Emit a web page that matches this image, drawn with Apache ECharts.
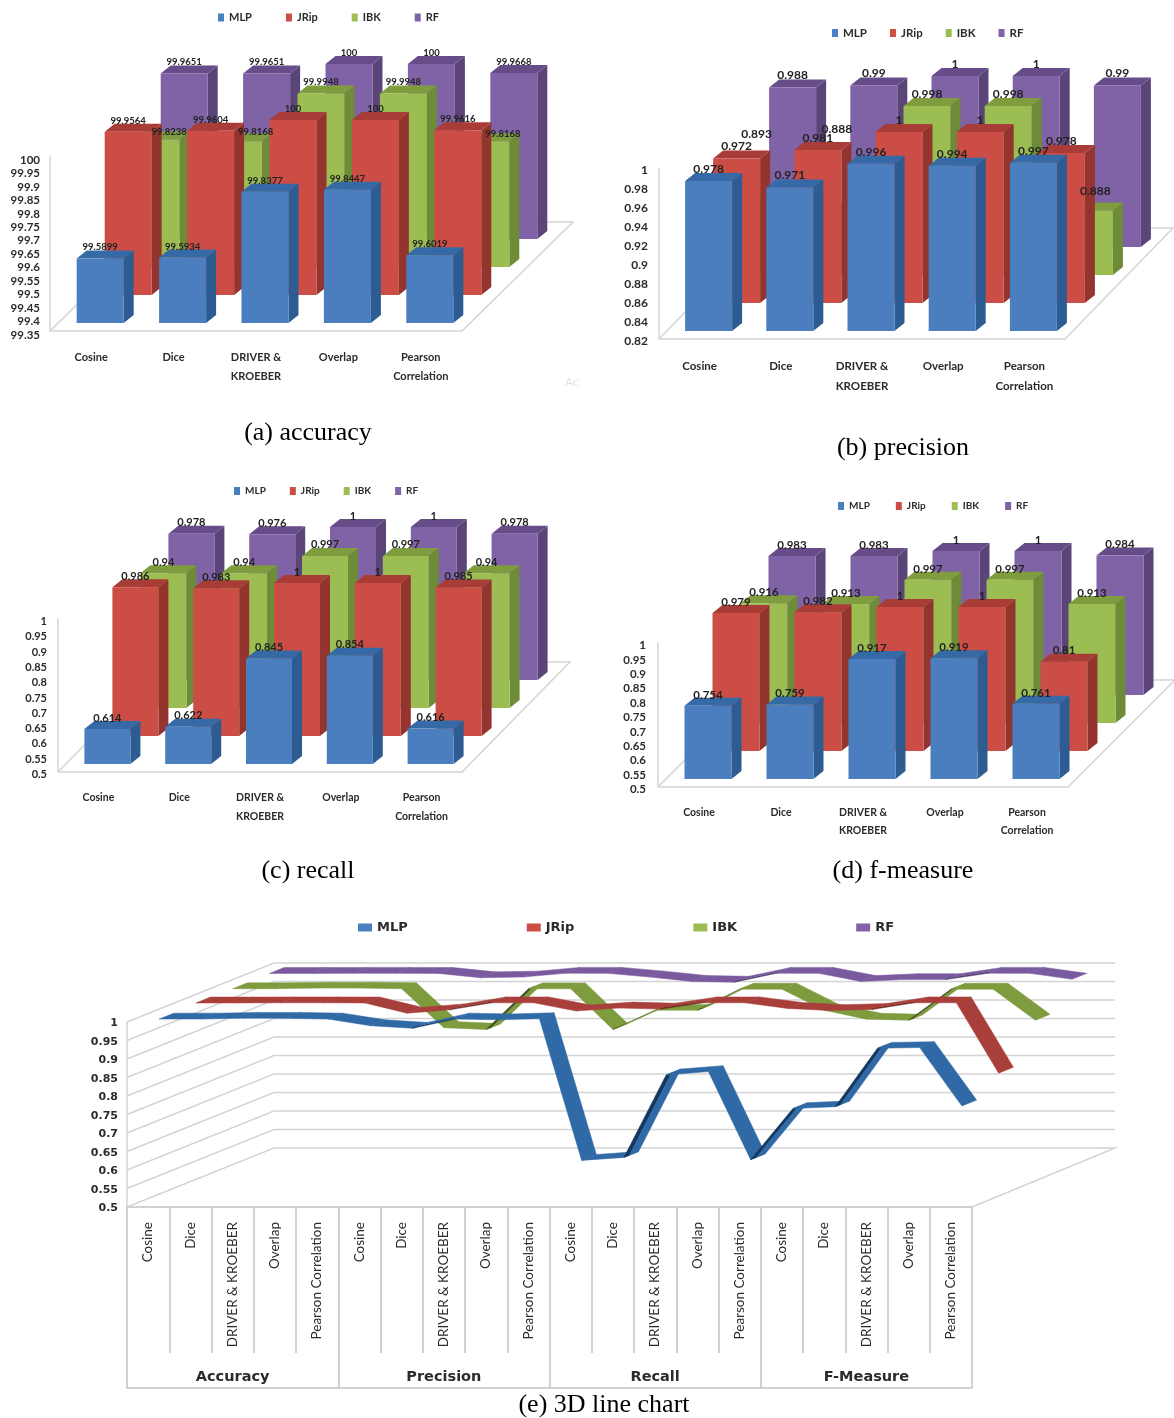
<!DOCTYPE html>
<html>
<head>
<meta charset="utf-8">
<title>chart</title>
<script src="https://cdn.jsdelivr.net/npm/echarts@6/dist/echarts.min.js"></script>
<style>
  html, body { margin: 0; padding: 0; background: #fff; }
  #main { width: 1174px; height: 1418px; }
</style>
</head>
<body>
<div id="main"></div>
<script>
const seriesNames = ['MLP', 'JRip', 'IBK', 'RF']
const methods = ['Cosine', 'Dice', 'DRIVER &\nKROEBER', 'Overlap', 'Pearson\nCorrelation']

const accuracyMLP = [99.5899, 99.5934, 99.8377, 99.8447, 99.6019]
const accuracyJRip = [99.9564, 99.9604, 100, 100, 99.9616]
const accuracyIBK = [99.8238, 99.8168, 99.9948, 99.9948, 99.8168]
const accuracyRF = [99.9651, 99.9651, 100, 100, 99.9668]

const precisionMLP = [0.978, 0.971, 0.996, 0.994, 0.997]
const precisionJRip = [0.972, 0.981, 1, 1, 0.978]
const precisionIBK = [0.893, 0.888, 0.998, 0.998, 0.888]
const precisionRF = [0.988, 0.99, 1, 1, 0.99]

const recallMLP = [0.614, 0.622, 0.845, 0.854, 0.616]
const recallJRip = [0.986, 0.983, 1, 1, 0.985]
const recallIBK = [0.94, 0.94, 0.997, 0.997, 0.94]
const recallRF = [0.978, 0.976, 1, 1, 0.978]

const fmeasureMLP = [0.754, 0.759, 0.917, 0.919, 0.761]
const fmeasureJRip = [0.979, 0.982, 1, 1, 0.81]
const fmeasureIBK = [0.916, 0.913, 0.997, 0.997, 0.913]
const fmeasureRF = [0.983, 0.983, 1, 1, 0.984]

// bottom chart: accuracy as a fraction, then the other three measures
const lineCategories = ['Cosine', 'Dice', 'DRIVER & KROEBER', 'Overlap', 'Pearson Correlation',
  'Cosine', 'Dice', 'DRIVER & KROEBER', 'Overlap', 'Pearson Correlation',
  'Cosine', 'Dice', 'DRIVER & KROEBER', 'Overlap', 'Pearson Correlation',
  'Cosine', 'Dice', 'DRIVER & KROEBER', 'Overlap', 'Pearson Correlation']
const lineGroups = ['Accuracy', 'Precision', 'Recall', 'F-Measure']
const lineMLP = [0.996, 0.996, 0.998, 0.998, 0.996, 0.978, 0.971, 0.996, 0.994, 0.997,
  0.614, 0.622, 0.845, 0.854, 0.616, 0.754, 0.759, 0.917, 0.919, 0.761]
const lineJRip = [0.9996, 0.9996, 1, 1, 0.9996, 0.972, 0.981, 1, 1, 0.978,
  0.986, 0.983, 1, 1, 0.985, 0.979, 0.982, 1, 1, 0.81]
const lineIBK = [0.9982, 0.9982, 0.9999, 0.9999, 0.9982, 0.893, 0.888, 0.998, 0.998, 0.888,
  0.94, 0.94, 0.997, 0.997, 0.94, 0.916, 0.913, 0.997, 0.997, 0.913]
const lineRF = [0.9997, 0.9997, 1, 1, 0.9997, 0.988, 0.99, 1, 1, 0.99,
  0.978, 0.976, 1, 1, 0.978, 0.983, 0.983, 1, 1, 0.984]
const lineTicks = [0.5, 0.55, 0.6, 0.65, 0.7, 0.75, 0.8, 0.85, 0.9, 0.95, 1]

const FONT = 'Lato, sans-serif'
const WIDE = '"DejaVu Sans", sans-serif'
const GRID_LINE = '#d4d4d4'
const TEXT = '#2b2b2b'

const front = ['#4a7ebf', '#cb4d45', '#9bbd52', '#8062a6']
const side = ['#2d5c92', '#93342f', '#6e8c38', '#5a4478']
const top_ = ['#366aa6', '#a93c36', '#7f9d3e', '#674c8a']
const ribbon = ['#2f69a6', '#a83f3a', '#7e9b3e', '#7a5a9e']
const ribbonDark = ['#14375f', '#6b2521', '#3f5220', '#4a3566']

// labelShift: a few labels sit away from their bars in the original, key is series-category
const panels = [
  { values: [accuracyMLP, accuracyJRip, accuracyIBK, accuracyRF], min: 99.35, max: 100, interval: 0.05,
    left: 50, width: 412, top: 156, height: 175, barW: 47, floor: [111, 109], axisFont: 11.5, catFont: 11,
    valFont: 9.5, catMargin: 17, catLine: 19, labelMargin: 10, labelUp: 11, labelDown: 4,
    labelShift: { '2-0': [13, 3], '2-1': [17, 2], '2-4': [17, 4] },
    legend: { left: 213, top: 7, gap: 34, font: 11 } },
  { values: [precisionMLP, precisionJRip, precisionIBK, precisionRF], min: 0.82, max: 1, interval: 0.02,
    left: 659, width: 406, top: 168, height: 171, barW: 47, floor: [108, 111], axisFont: 12, catFont: 11.5,
    valFont: 12, catMargin: 17, catLine: 20, labelMargin: 11, labelUp: 12, labelDown: 2.5,
    labelShift: { '2-0': [-8, -60], '2-1': [-9, -69], '2-4': [6, -7] },
    legend: { left: 827, top: 22, gap: 23, font: 11.5 } },
  { values: [recallMLP, recallJRip, recallIBK, recallRF], min: 0.5, max: 1, interval: 0.05,
    left: 58, width: 404, top: 619, height: 153, barW: 46, floor: [108, 110], axisFont: 11, catFont: 10.5,
    valFont: 11, catMargin: 16, catLine: 19, labelMargin: 11, labelUp: 11, labelDown: 2.5,
    labelShift: {},
    legend: { left: 229, top: 481, gap: 24, font: 10 } },
  { values: [fmeasureMLP, fmeasureJRip, fmeasureIBK, fmeasureRF], min: 0.5, max: 1, interval: 0.05,
    left: 658, width: 410, top: 643, height: 144, barW: 47, floor: [107, 107], axisFont: 11.5, catFont: 10.5,
    valFont: 11.5, catMargin: 17, catLine: 18, labelMargin: 12, labelUp: 11, labelDown: 2.5,
    labelShift: {},
    legend: { left: 833, top: 496, gap: 26, font: 10 } },
]

function tickText(v) {
  return '{t|' + String(+v.toFixed(2)) + '}'
}

function renderBar(panel, s) {
  const stepX = 28, stepY = 28, sideX = 10, sideY = 8, shiftX = 9, shiftY = 8
  return function (params, api) {
    const cat = api.value(0)
    const val = api.value(1)
    const topPt = api.coord([cat, val])
    const basePt = api.coord([cat, panel.min])
    const x0 = basePt[0] - panel.barW / 2 + shiftX + s * stepX
    const x1 = x0 + panel.barW
    const yb = basePt[1] - shiftY - s * stepY
    const yt = topPt[1] - shiftY - s * stepY
    const shift = panel.labelShift[s + '-' + cat] || [0, 0]
    return {
      type: 'group',
      children: [
        { type: 'polygon', z2: 1, shape: { points: [[x1, yt], [x1 + sideX, yt - sideY], [x1 + sideX, yb - sideY], [x1, yb]] }, style: { fill: side[s], opacity: 1 } },
        { type: 'polygon', z2: 1, shape: { points: [[x0, yt], [x1, yt], [x1 + sideX, yt - sideY], [x0 + sideX, yt - sideY]] }, style: { fill: top_[s], opacity: 1 } },
        { type: 'rect', z2: 1, shape: { x: x0, y: yt, width: panel.barW, height: yb - yt }, style: { fill: front[s], opacity: 1 } },
        { type: 'text', z2: 50, x: (x0 + x1) / 2 + shift[0], y: yt - panel.labelUp + shift[1], style: {
          text: String(val), fill: '#222', textAlign: 'center', textVerticalAlign: 'middle',
          font: 'bold ' + panel.valFont + 'px ' + FONT } },
      ],
    }
  }
}

function renderFloor(panel) {
  return function (params, api) {
    const band = api.size([1, 0])[0]
    const p = api.coord([0, panel.min])
    const l = p[0] - band / 2
    const r = l + band * methods.length
    const y = p[1]
    const dx = panel.floor[0], dy = panel.floor[1]
    return {
      type: 'polyline',
      shape: { points: [[l, y], [l + dx, y - dy], [r + dx, y - dy], [r, y]] },
      style: { fill: 'none', stroke: GRID_LINE, lineWidth: 1.5 },
    }
  }
}

const DEPTH_X = 147, DEPTH_Y = 59

function renderWall(params, api) {
  const v = api.value(0)
  const band = api.size([1, 0])[0]
  const p = api.coord([0, v])
  const l = p[0] - band / 2
  const r = l + band * lineCategories.length
  const y = p[1]
  const pts = [[l, y], [l + DEPTH_X, y - DEPTH_Y], [r + DEPTH_X - 4, y - DEPTH_Y]]
  if (v === lineTicks[0]) pts.push([r, y])
  return { type: 'polyline', shape: { points: pts }, style: { fill: 'none', stroke: GRID_LINE, lineWidth: 1.5 } }
}

function renderRibbon(s) {
  const cellX = DEPTH_X / 4, cellY = DEPTH_Y / 4
  // strip of the ribbon between two depths, t is measured in series cells
  function strip(a, b, t0, t1, fill) {
    const ax = (s + t0) * cellX, ay = (s + t0) * cellY
    const bx = (s + t1) * cellX, by = (s + t1) * cellY
    return {
      type: 'polygon',
      shape: { points: [[a[0] + ax, a[1] - ay], [b[0] + ax, b[1] - ay], [b[0] + bx, b[1] - by], [a[0] + bx, a[1] - by]] },
      style: { fill: fill, stroke: fill, lineWidth: 0.5 },
    }
  }
  return function (params, api) {
    const cat = api.value(0)
    const a = api.coord([cat, api.value(1)])
    const b = api.coord([cat + 1, api.value(2)])
    if (b[1] < a[1] - 6) {
      // rising part shows the dark underside along its front edge
      return { type: 'group', children: [strip(a, b, 0.3, 0.45, ribbonDark[s]), strip(a, b, 0.45, 0.7, ribbon[s])] }
    }
    return strip(a, b, 0.3, 0.7, ribbon[s])
  }
}

const grid = []
const xAxis = []
const yAxis = []
const series = []
const legend = []

panels.forEach(function (panel, i) {
  grid.push({ left: panel.left, top: panel.top, width: panel.width, height: panel.height })
  xAxis.push({
    type: 'category', gridIndex: i, data: methods,
    axisLine: { lineStyle: { color: GRID_LINE, width: 1.5 } },
    axisTick: { show: false },
    axisLabel: { interval: 0, margin: panel.catMargin, color: TEXT, fontFamily: FONT, fontWeight: 'bold', fontSize: panel.catFont, lineHeight: panel.catLine },
  })
  yAxis.push({
    type: 'value', gridIndex: i, min: panel.min, max: panel.max, interval: panel.interval,
    splitLine: { show: false }, axisTick: { show: false },
    axisLine: { show: true, lineStyle: { color: GRID_LINE, width: 1.5 } },
    axisLabel: {
      margin: panel.labelMargin, formatter: tickText,
      rich: { t: { padding: [panel.labelDown * 2, 0, 0, 0], color: TEXT, fontFamily: FONT, fontWeight: 'bold', fontSize: panel.axisFont } },
    },
  })
  series.push({
    type: 'custom', name: 'floor' + i, xAxisIndex: i, yAxisIndex: i, silent: true, z: 2,
    data: [[0, panel.min]], encode: { x: 0, y: 1 }, renderItem: renderFloor(panel),
  })
  for (let s = 3; s >= 0; s--) {
    series.push({
      type: 'custom', name: seriesNames[s], xAxisIndex: i, yAxisIndex: i, z: 2,
      itemStyle: { color: front[s] },
      data: panel.values[s].map(function (v, c) { return [c, v] }),
      encode: { x: 0, y: 1 },
      renderItem: renderBar(panel, s),
    })
  }
  legend.push({
    left: panel.legend.left, top: panel.legend.top, itemWidth: 6, itemHeight: 8, itemGap: panel.legend.gap,
    icon: 'rect', selectedMode: false, data: seriesNames,
    textStyle: { color: TEXT, fontFamily: FONT, fontWeight: 'bold', fontSize: panel.legend.font },
  })
})

// bottom chart
grid.push({ left: 127, top: 1022, width: 845, height: 185 })
xAxis.push({
  type: 'category', gridIndex: 4, data: lineCategories,
  axisLine: { lineStyle: { color: '#c4c4c4', width: 1.5 } },
  axisTick: { show: true, interval: 0, length: 146, lineStyle: { color: '#c4c4c4', width: 1.5 } },
  axisLabel: { interval: 0, rotate: 90, margin: 15, color: TEXT, fontFamily: FONT, fontSize: 13.5 },
})
xAxis.push({
  type: 'category', gridIndex: 4, data: lineGroups, position: 'bottom', offset: 181,
  axisLine: { lineStyle: { color: '#c4c4c4', width: 1.5 } },
  axisTick: { show: true, interval: 0, inside: true, length: 181, lineStyle: { color: '#c4c4c4', width: 1.5 } },
  axisLabel: { inside: true, interval: 0, margin: 3, color: TEXT, fontFamily: WIDE, fontWeight: 'bold', fontSize: 14.5 },
})
yAxis.push({
  type: 'value', gridIndex: 4, min: 0.5, max: 1, interval: 0.05,
  splitLine: { show: false }, axisTick: { show: false },
  axisLine: { show: true, lineStyle: { color: GRID_LINE, width: 1.5 } },
  axisLabel: {
    margin: 9, formatter: tickText,
    rich: { t: { padding: [3, 0, 0, 0], color: TEXT, fontFamily: WIDE, fontWeight: 'bold', fontSize: 11 } },
  },
})
series.push({
  type: 'custom', name: 'wall', xAxisIndex: 4, yAxisIndex: 4, silent: true, z: 2,
  data: lineTicks.map(function (v) { return [v] }), encode: { y: 0 }, renderItem: renderWall,
})
const lineValues = [lineMLP, lineJRip, lineIBK, lineRF]
for (let s = 3; s >= 0; s--) {
  const segments = []
  for (let c = 0; c < lineValues[s].length - 1; c++) {
    segments.push([c, lineValues[s][c], lineValues[s][c + 1]])
  }
  series.push({
    type: 'custom', name: seriesNames[s], xAxisIndex: 4, yAxisIndex: 4, z: 2,
    itemStyle: { color: ribbon[s] },
    data: segments, encode: { x: 0, y: 1 },
    renderItem: renderRibbon(s),
  })
}
legend.push({
  left: 353, top: 916, itemWidth: 14, itemHeight: 8, itemGap: 119,
  icon: 'rect', selectedMode: false, data: seriesNames,
  textStyle: { color: TEXT, fontFamily: WIDE, fontWeight: 'bold', fontSize: 13 },
})

const captions = [
  ['(a) accuracy', 303, 415], ['(b) precision', 898, 430], ['(c) recall', 303, 853],
  ['(d) f-measure', 898, 853], ['(e) 3D line chart', 599, 1387],
]
const title = captions.map(function (c) {
  return {
    text: c[0], left: c[1], top: c[2], textAlign: 'center',
    textStyle: { fontFamily: '"Liberation Serif", serif', fontWeight: 'normal', fontSize: 26, color: '#000' },
  }
})
title.push({ text: 'Ac', left: 560, top: 371, textStyle: { fontFamily: FONT, fontWeight: 'normal', fontSize: 12, color: '#e2e2e2' } })

const chart = echarts.init(document.getElementById('main'), null, { renderer: 'canvas' })
chart.setOption({
  animation: false,
  backgroundColor: '#fff',
  title: title,
  legend: legend,
  grid: grid,
  xAxis: xAxis,
  yAxis: yAxis,
  series: series,
})
</script>
</body>
</html>
